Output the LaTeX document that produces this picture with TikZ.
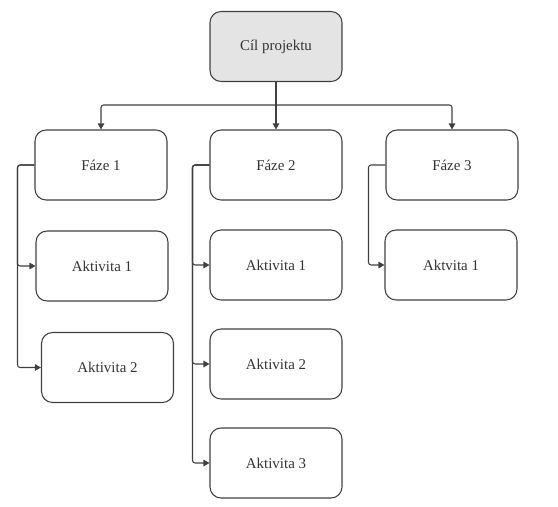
\documentclass[tikz,border=0pt]{standalone}
\usepackage{fontspec}
\setmainfont{Liberation Serif}
\usepackage{xcolor}
\usetikzlibrary{arrows.meta,positioning}
\definecolor{linegray}{HTML}{404040}
\definecolor{rootgray}{HTML}{E4E4E4}
\tikzstyle{box} = [rectangle, rounded corners=0.22cm, draw=linegray, line width=0.6pt, minimum width=2.64cm, minimum height=1.4cm, font=\fontsize{8.5}{10}\selectfont, text=black!80]
\tikzstyle{root} = [box, fill=rootgray]
\tikzstyle{link} = [draw=linegray, line width=0.6pt, rounded corners=1.5pt, -{Triangle[length=1.2mm,width=1.3mm]}]

\begin{document}
\begin{tikzpicture}[x=0.02cm, y=-0.02cm]
    \useasboundingbox (0,0) rectangle (558,507);

    \node[root] (goal) at (276,46.5) {Cíl projektu};

    \node[box] (f1) at (101,165) {Fáze 1};
    \node[box] (f2) at (276,165) {Fáze 2};
    \node[box] (f3) at (452,165) {Fáze 3};

    \coordinate (bus) at (276,105);
    \draw[link] (goal.south) -- (f2.north);
    \draw[link] (bus) -| (f1.north);
    \draw[link] (bus) -| (f3.north);

    \node[box] (a11) at (102,266) {Aktivita 1};
    \node[box] (a12) at (107.5,367.5) {Aktivita 2};
    \draw[link] (f1.west) -- ++(-17,0) |- (a11.west);
    \draw[link] (f1.west) -- ++(-17,0) |- (a12.west);

    \node[box] (a21) at (276,265) {Aktivita 1};
    \node[box] (a22) at (276,364) {Aktivita 2};
    \node[box] (a23) at (276,463) {Aktivita 3};
    \draw[link] (f2.west) -- ++(-17,0) |- (a21.west);
    \draw[link] (f2.west) -- ++(-17,0) |- (a22.west);
    \draw[link] (f2.west) -- ++(-17,0) |- (a23.west);

    \node[box] (a31) at (451,265) {Aktvita 1};
    \draw[link] (f3.west) -- ++(-17,0) |- (a31.west);
\end{tikzpicture}
\end{document}
